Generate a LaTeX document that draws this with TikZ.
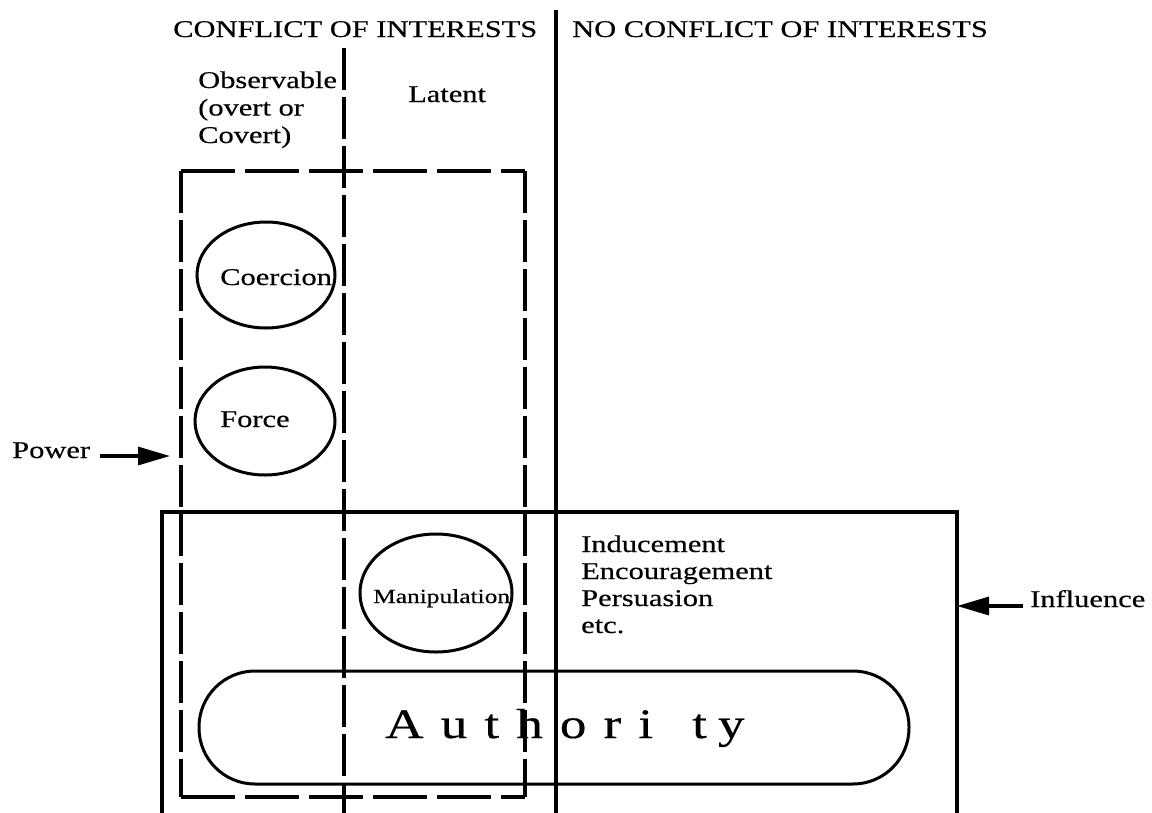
\documentclass[tikz,border=0pt]{standalone}
\usepackage{fontspec}
\setmainfont{Liberation Serif}[FakeStretch=1.27,FakeBold=0.4]
\usetikzlibrary{arrows.meta}
\begin{document}
\begin{tikzpicture}[x=1pt,y=-1pt,
  solidline/.style={line width=3.4pt},
  dashv/.style={line width=3.4pt, dash pattern=on 42pt off 7pt},
  dashh/.style={line width=3.4pt, dash pattern=on 54pt off 10pt},
  bubble/.style={line width=3pt},
  txt/.style={inner sep=0pt, anchor=base west, align=left,
              font=\fontsize{24}{27.5}\selectfont},
  pointer/.style={line width=3.2pt, -{Triangle[length=32pt,width=18pt]}}
]
% canvas
\useasboundingbox (0,0) rectangle (1152,812);
\clip (0,0) rectangle (1152,812);

% column headings (multi-line nodes sit on the baseline of their last line)
\node[txt] (conflict) at (173,37) {CONFLICT OF INTERESTS};
\node[txt] (noconflict) at (572,37) {NO CONFLICT OF INTERESTS};
\node[txt] (observable) at (198,143) {Observable\\(overt or\\Covert)};
\node[txt] (latent) at (408,102) {Latent};

% column dividers
\draw[solidline] (556,10) -- (556,815);
\draw[dashv] (344,48) -- (344,815);

% power region (dashed frame)
\draw[dashh] (181,171) -- (525,171);
\draw[dashh] (181,797) -- (525,797);
\draw[dashv] (181,171) -- (181,797);
\draw[dashv] (525,171) -- (525,797);

% influence region (open at the bottom)
\draw[solidline] (162,815) -- (162,512) -- (957,512) -- (957,815);

% forms of power
\draw[bubble] (266,275) ellipse [x radius=69pt, y radius=53pt];
\node[txt] (coercion) at (220,285) {Coercion};
\draw[bubble] (265,421) ellipse [x radius=70pt, y radius=54pt];
\node[txt] (force) at (220,427) {Force};
\draw[bubble] (436,593) ellipse [x radius=76pt, y radius=59pt];
\node[txt, font=\fontsize{20}{24}\selectfont] (manip) at (373,603) {Manipulation};

% forms of influence
\node[txt, font=\fontsize{24}{27}\selectfont] (forms) at (581,633)
  {Inducement\\Encouragement\\Persuasion\\etc.};

% authority
\draw[bubble, rounded corners=56pt] (199,671) rectangle (909,784);
\node[txt, font=\fontsize{42}{48}\selectfont] (authority) at (385,738)
  {{\spaceskip=17pt A u t h o r i\hspace{22pt} t\hspace{-6pt} y}};

% side labels with pointers
\node[txt] (power) at (12,458) {Power};
\coordinate (powertip) at (170,456);
\draw[pointer] ([xshift=10pt]power.east |- powertip) -- (powertip);

\node[txt] (influence) at (1030,607) {Influence};
\coordinate (influencetip) at (957,606);
\draw[pointer] ([xshift=-7pt]influence.west |- influencetip) -- (influencetip);
\end{tikzpicture}
\end{document}
